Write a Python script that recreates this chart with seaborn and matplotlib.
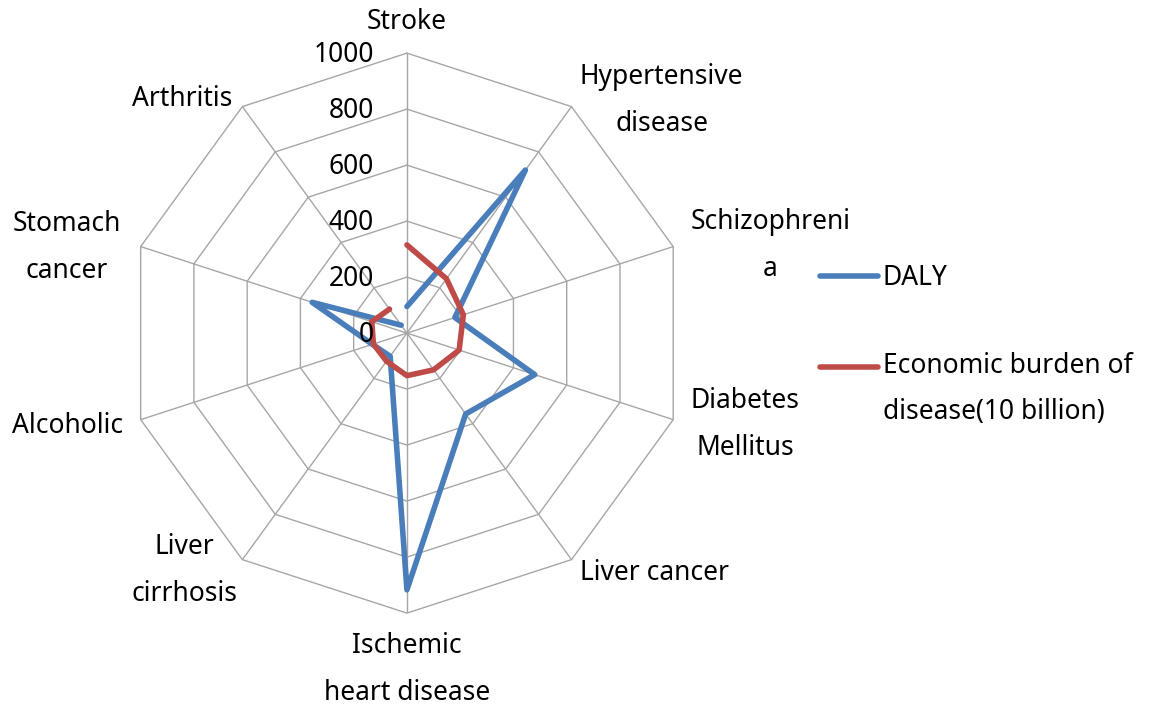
import numpy as np
import pandas as pd
import matplotlib
matplotlib.use("Agg")
import matplotlib.pyplot as plt
import seaborn as sns

# Datos
categories = ["Stroke", "Hypertensive disease", "Schizophrenia", "Diabetes Mellitus",
              "Liver cancer", "Ischemic heart disease", "Liver cirrhosis", "Alcoholic",
              "Stomach cancer", "Arthritis"]
cat_labels = ["Stroke", "Hypertensive\ndisease", "Schizophreni\na", "Diabetes\nMellitus",
              "Liver cancer", "Ischemic\nheart disease", "Liver\ncirrhosis", "Alcoholic",
              "Stomach\ncancer", "Arthritis"]
daly = [95, 720, 180, 480, 357, 917, 102, 130, 356, 35]
econ = [315, 240, 212, 196, 162, 152, 124, 126, 132, 106]
r_ticks = [0, 200, 400, 600, 800, 1000]
series_names = ["DALY", "Economic burden of\ndisease(10 billion)"]
colors = ["#4A7EBB", "#BE4B48"]

sns.set_theme(style="white")
plt.rcParams["font.family"] = ["Noto Sans", "DejaVu Sans"]
plt.rcParams["text.color"] = "black"
fs = 19

n = len(categories)
theta = np.linspace(0, 2 * np.pi, n, endpoint=False)
theta_c = np.append(theta, theta[0])

fig = plt.figure(figsize=(11.51, 7.08), dpi=100)
ax = fig.add_axes([0.1103, 0.134, 0.4865, 0.791], projection="polar")
ax.set_theta_zero_location("N")
ax.set_theta_direction(-1)

# Rejilla poligonal
for r in r_ticks[1:]:
    ax.plot(theta_c, [r] * (n + 1), color="#A6A6A6", lw=1, clip_on=False, zorder=1)
ax.set_xticks(theta)
ax.set_xticklabels([])
ax.xaxis.grid(True, color="#A6A6A6", lw=1)
ax.yaxis.grid(False)
ax.spines["polar"].set_visible(False)
ax.set_yticks([])
ax.set_ylim(0, 1000)

for vals, name, c in zip([daly, econ], series_names, colors):
    df = pd.DataFrame({"theta": theta_c, "val": np.append(vals, vals[0])})
    sns.lineplot(data=df, x="theta", y="val", sort=False, ax=ax, color=c, lw=4,
                 label=name, zorder=3)
ax.set_xlabel("")
ax.set_ylabel("")

# Etiquetas del eje radial
for r in r_ticks:
    ax.annotate(str(r), xy=(0, r), xytext=(-33, -2), textcoords="offset pixels",
                ha="right", va="center", fontsize=fs, color="black", zorder=5)

# Etiquetas de categorias
offsets = [(0, 31), (90, 6), (97, 1), (72, -5), (83, -13), (0, -56),
           (-58, -11), (-73, -6), (-74, -1), (-60, 8)]
for t, lab, off in zip(theta, cat_labels, offsets):
    ax.annotate(lab, xy=(t, 1000), xytext=off, textcoords="offset pixels",
                ha="center", va="center", fontsize=fs, linespacing=1.9,
                annotation_clip=False)

ax.get_legend().remove()
h, l = ax.get_legend_handles_labels()
leg = fig.legend(h, l, loc="upper left", bbox_to_anchor=(796 / 1151, 1 - 240 / 708),
                 frameon=False, fontsize=fs, handlelength=2.2, handletextpad=0.19,
                 labelspacing=2.3)
for t in leg.get_texts():
    t.set_linespacing(1.85)
# la linea de la segunda serie va a la altura de su primera linea de texto
hl = leg.legend_handles[1]
hl.set_ydata(np.asarray(hl.get_ydata()) + 17)

fig.savefig("out.png", dpi=100)
